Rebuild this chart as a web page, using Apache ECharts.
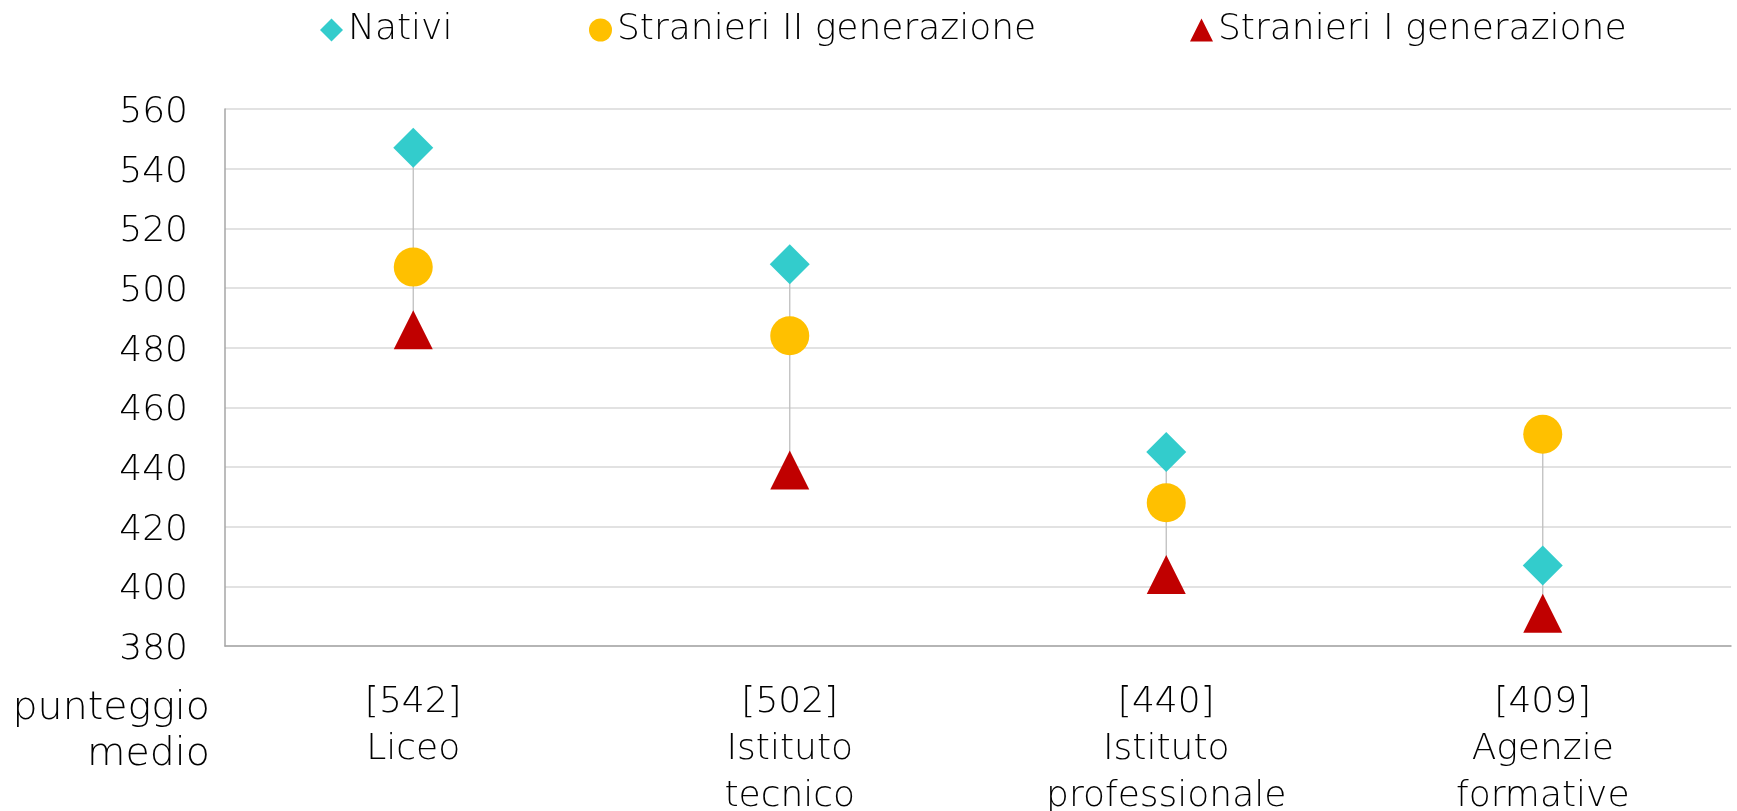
<!DOCTYPE html>
<html>
<head>
<meta charset="utf-8">
<script src="https://cdn.jsdelivr.net/npm/echarts@6/dist/echarts.min.js"></script>
<style>
    html, body { margin: 0; padding: 0; background: #fff; }
    #chart { width: 1737px; height: 811px; }
</style>
</head>
<body>
<div id="chart"></div>
<script>
    // dati
    const categories = ['[542]\nLiceo', '[502]\nIstituto\ntecnico', '[440]\nIstituto\nprofessionale', '[409]\nAgenzie\nformative']
    const nativi = [547, 508, 445, 407]
    const stranieriII = [507, 484, 428, 451]
    const stranieriI = [486, 439, 404, 391]
    const yMin = 380
    const yMax = 560
    const yStep = 20

    const font = "'Century Gothic', 'DejaVu Sans', sans-serif"
    const weight = 300

    // linee alto-basso per ogni categoria
    const hiLo = categories.map((c, i) => {
        const v = [nativi[i], stranieriII[i], stranieriI[i]]
        return [i, Math.min(...v), Math.max(...v)]
    })

    const legendBase = {
        orient: 'horizontal',
        top: 7,
        itemWidth: 23,
        itemHeight: 23,
        itemGap: 5,
        itemStyle: { opacity: 1 },
        textStyle: { fontFamily: font, fontWeight: weight, fontSize: 36, color: '#000' }
    }

    const options = {
        animation: false,
        legend: [
            Object.assign({}, legendBase, { left: 315, data: [{ name: 'Nativi', icon: 'diamond' }] }),
            Object.assign({}, legendBase, { left: 584, data: [{ name: 'Stranieri II generazione', icon: 'circle' }] }),
            Object.assign({}, legendBase, { left: 1185, data: [{ name: 'Stranieri I generazione', icon: 'triangle' }] })
        ],
        grid: { left: 225, right: 6, top: 109, bottom: 165, outerBoundsMode: 'none', containLabel: false },
        xAxis: {
            type: 'category',
            data: categories,
            boundaryGap: true,
            axisTick: { show: false },
            axisLine: { lineStyle: { color: '#a6a6a6', width: 1.5 } },
            axisLabel: { fontFamily: font, fontWeight: weight, fontSize: 36, lineHeight: 47, margin: 33, color: '#000', interval: 0 }
        },
        yAxis: {
            type: 'value',
            min: yMin,
            max: yMax,
            interval: yStep,
            axisLine: { show: true, lineStyle: { color: '#a6a6a6', width: 1.5 } },
            axisTick: { show: false },
            splitLine: { lineStyle: { color: '#d9d9d9', width: 1.5 } },
            axisLabel: {
                margin: 37,
                formatter: '{v|{value}}',
                rich: {
                    v: { fontFamily: font, fontWeight: weight, fontSize: 36, color: '#000', padding: [7, 0, 0, 0] }
                }
            }
        },
        graphic: [{
            type: 'text',
            style: {
                text: 'punteggio\nmedio',
                x: 210,
                y: 686,
                align: 'right',
                verticalAlign: 'top',
                lineHeight: 46,
                fontFamily: font,
                fontWeight: weight,
                fontSize: 39.5,
                fill: '#000'
            }
        }],
        series: [
            {
                type: 'custom',
                name: 'hilo',
                z: 1,
                data: hiLo,
                renderItem: (params, api) => {
                    const lo = api.coord([api.value(0), api.value(1)])
                    const hi = api.coord([api.value(0), api.value(2)])
                    return {
                        type: 'line',
                        shape: { x1: lo[0], y1: lo[1], x2: hi[0], y2: hi[1] },
                        style: { stroke: '#bfbfbf', lineWidth: 1.3 }
                    }
                }
            },
            {
                name: 'Nativi',
                type: 'scatter',
                symbol: 'diamond',
                symbolSize: 40,
                z: 3,
                itemStyle: { color: '#33cccc', opacity: 1 },
                data: nativi
            },
            {
                name: 'Stranieri II generazione',
                type: 'scatter',
                symbol: 'circle',
                symbolSize: 39,
                z: 3,
                itemStyle: { color: '#ffc000', opacity: 1 },
                data: stranieriII
            },
            {
                name: 'Stranieri I generazione',
                type: 'scatter',
                symbol: 'triangle',
                symbolSize: 39,
                z: 3,
                itemStyle: { color: '#c00000', opacity: 1 },
                data: stranieriI
            }
        ]
    }

    const myChart = echarts.init(document.getElementById('chart'))
    myChart.setOption(options)
</script>
</body>
</html>
